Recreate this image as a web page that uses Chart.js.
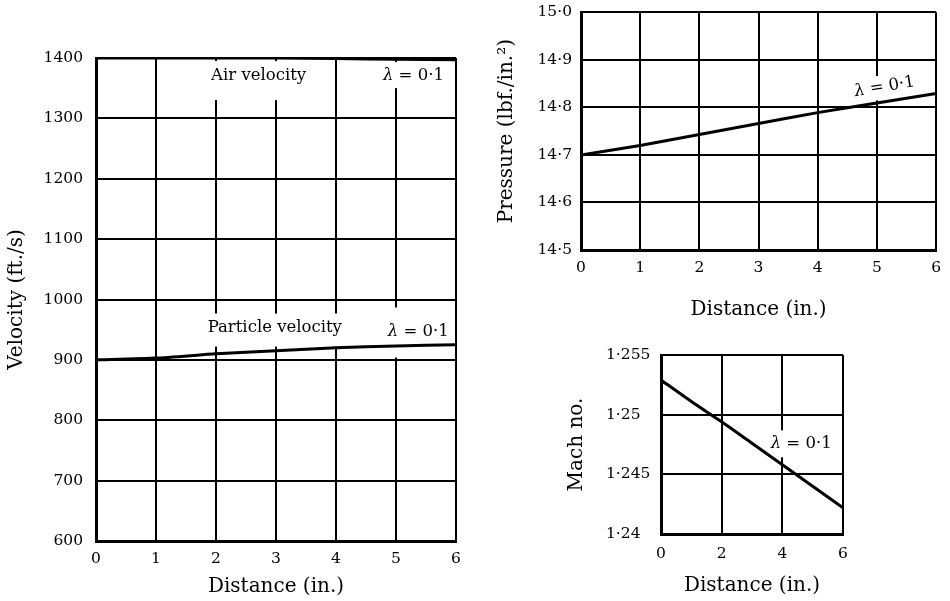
<!DOCTYPE html>
<html>
<head>
<meta charset="utf-8">
<script src="https://cdn.jsdelivr.net/npm/chart.js@4.4.0/dist/chart.umd.min.js"></script>
<style>
  html, body { margin: 0; padding: 0; background: #fff; }
  body { width: 950px; height: 601px; position: relative; overflow: hidden; }
  .panel { position: absolute; }
</style>
</head>
<body>
<div class="panel" style="left:0;top:0;width:470px;height:601px"><canvas id="chartVelocity"></canvas></div>
<div class="panel" style="left:490px;top:-6px;width:460px;height:336px"><canvas id="chartPressure"></canvas></div>
<div class="panel" style="left:560px;top:330px;width:310px;height:271px"><canvas id="chartMach"></canvas></div>
<script>
// distance along the duct (in.)
var distance = [0, 1, 2, 3, 4, 5, 6];

// velocities (ft./s), lambda = 0.1
var airVelocity = [1400, 1400, 1400, 1400, 1399, 1398, 1397];
var particleVelocity = [900, 903, 910, 915, 920, 923, 925];

// static pressure (lbf./in.2)
var pressure = [14.7, 14.72, 14.743, 14.766, 14.789, 14.809, 14.829];

// Mach number
var machNumber = [1.2529, 1.2511, 1.2494, 1.2476, 1.2458, 1.2440, 1.2422];

// axis ranges / tick steps
var velocityTicks = { min: 600, max: 1400, step: 100 };
var pressureTicks = { min: 14.5, max: 15.0, step: 0.1 };
var machTicks = { min: 1.24, max: 1.255, step: 0.005 };

var SERIF = '"DejaVu Serif", "Liberation Serif", serif';

Chart.defaults.color = '#000';
Chart.defaults.font.family = SERIF;

// decimal point printed as a raised dot, e.g. 14·7
function dotted(decimals) {
    return function(value) {
        return Number(value).toFixed(decimals).replace('.', '\u00b7');
    };
}

function points(xs, ys) {
    return xs.map(function(x, i) { return { x: x, y: ys[i] }; });
}

function lineSet(data) {
    return {
        data: data,
        borderColor: '#000',
        borderWidth: 3,
        pointRadius: 0,
        fill: false,
        tension: 0.2
    };
}

// curve labels; a white patch behind each one breaks the grid lines
var curveLabelPlugin = {
    id: 'curvelabels',
    beforeDatasetsDraw(chart, args, options) {
        var ctx = chart.ctx;
        (options.items || []).forEach(function(it) {
            var px = chart.scales.x.getPixelForValue(it.x);
            var py = chart.scales.y.getPixelForValue(it.y);
            var b = it.box;
            ctx.save();
            ctx.translate(px, py);
            ctx.rotate((it.rotation || 0) * Math.PI / 180);
            ctx.fillStyle = '#fff';
            ctx.fillRect(b[0], b[1], b[2] - b[0], b[3] - b[1]);
            ctx.restore();
        });
    },
    afterDatasetsDraw(chart, args, options) {
        var ctx = chart.ctx;
        var size = options.size || 16;
        (options.items || []).forEach(function(it) {
            var px = chart.scales.x.getPixelForValue(it.x);
            var py = chart.scales.y.getPixelForValue(it.y);
            ctx.save();
            ctx.translate(px, py);
            ctx.rotate((it.rotation || 0) * Math.PI / 180);
            ctx.fillStyle = '#000';
            ctx.textBaseline = 'middle';
            ctx.textAlign = 'left';
            var normal = size + 'px ' + SERIF;
            var italic = 'italic ' + size + 'px ' + SERIF;
            var lead = it.lambda ? '\u03bb' : '';
            ctx.font = italic;
            var w1 = ctx.measureText(lead).width;
            ctx.font = normal;
            var w2 = ctx.measureText(it.text).width;
            var x0 = -(w1 + w2) / 2;
            if (lead) {
                ctx.font = italic;
                ctx.fillText(lead, x0, 0);
            }
            ctx.font = normal;
            ctx.fillText(it.text, x0 + w1, 0);
            ctx.restore();
        });
    }
};

function xAxis(step, tickPad, titlePad, height) {
    return {
        type: 'linear',
        min: 0,
        max: 6,
        grid: { color: '#000', lineWidth: 2, drawTicks: false },
        border: { color: '#000', width: 3 },
        ticks: {
            stepSize: step,
            padding: tickPad,
            font: { size: 15.5 },
            color: '#000'
        },
        title: {
            display: true,
            text: 'Distance (in.)',
            font: { size: 20 },
            color: '#000',
            padding: { top: 0, bottom: titlePad }
        },
        afterFit: function(scale) { scale.height = height; }
    };
}

function yAxis(t, label, fmt, tickPad, titlePad, width, crossAlign) {
    return {
        type: 'linear',
        min: t.min,
        max: t.max,
        grid: { color: '#000', lineWidth: 2, drawTicks: false },
        border: { color: '#000', width: 3 },
        ticks: {
            stepSize: t.step,
            padding: tickPad,
            font: { size: 15.5 },
            color: '#000',
            crossAlign: crossAlign || 'near',
            callback: fmt
        },
        title: {
            display: true,
            text: label,
            font: { size: 20 },
            color: '#000',
            padding: { top: titlePad, bottom: 0 }
        },
        afterFit: function(scale) { scale.width = width; }
    };
}

function baseOptions(padding, xs, ys, labels) {
    return {
        responsive: true,
        maintainAspectRatio: false,
        animation: false,
        events: [],
        layout: { padding: padding },
        scales: { x: xs, y: ys },
        plugins: {
            legend: { display: false },
            tooltip: { enabled: false },
            curvelabels: { size: 16.5, items: labels }
        }
    };
}

// velocity chart
new Chart(document.getElementById('chartVelocity'), {
    type: 'line',
    data: {
        datasets: [
            lineSet(points(distance, airVelocity)),
            lineSet(points(distance, particleVelocity))
        ]
    },
    options: baseOptions(
        { left: 0, right: 14, top: 58, bottom: 0 },
        xAxis(1, 9, 2, 60),
        yAxis(velocityTicks, 'Velocity (ft./s)', dotted(0), 13, 5, 96),
        [
            { x: 2.71, y: 1370, text: 'Air velocity', box: [-55, -15, 50, 24] },
            { x: 5.29, y: 1370, text: ' = 0\u00b71', lambda: true, box: [-35, -14, 35, 12] },
            { x: 2.98, y: 953.5, text: 'Particle velocity', box: [-70, -14, 68, 19] },
            { x: 5.37, y: 947, text: ' = 0\u00b71', lambda: true, box: [-33, -24, 33, 26] }
        ]
    ),
    plugins: [curveLabelPlugin]
});

// pressure chart
new Chart(document.getElementById('chartPressure'), {
    type: 'line',
    data: { datasets: [lineSet(points(distance, pressure))] },
    options: baseOptions(
        { left: 0, right: 8, top: 17, bottom: 0 },
        xAxis(1, 9, 8, 80),
        yAxis(pressureTicks, 'Pressure (lbf./in.\u00b2)', dotted(1), 9, 5, 91),
        [
            { x: 5.13, y: 14.843, text: ' = 0\u00b71', lambda: true, rotation: -9.5, box: [-36, -12, 36, 12] }
        ]
    ),
    plugins: [curveLabelPlugin]
});

// Mach number chart
var machY = yAxis(machTicks, 'Mach no.', function(v) {
    var s = String(Math.round(v * 1000) / 1000);
    return s.replace('.', '\u00b7');
}, 9, -41, 55, 'far');

new Chart(document.getElementById('chartMach'), {
    type: 'line',
    data: { datasets: [lineSet(points(distance, machNumber))] },
    options: baseOptions(
        { left: 46, right: 27, top: 25, bottom: 0 },
        xAxis(2, 11, 3, 67),
        machY,
        [
            { x: 4.62, y: 1.2476, text: ' = 0\u00b71', lambda: true, box: [-33, -13, 33, 14] }
        ]
    ),
    plugins: [curveLabelPlugin]
});
</script>
</body>
</html>
